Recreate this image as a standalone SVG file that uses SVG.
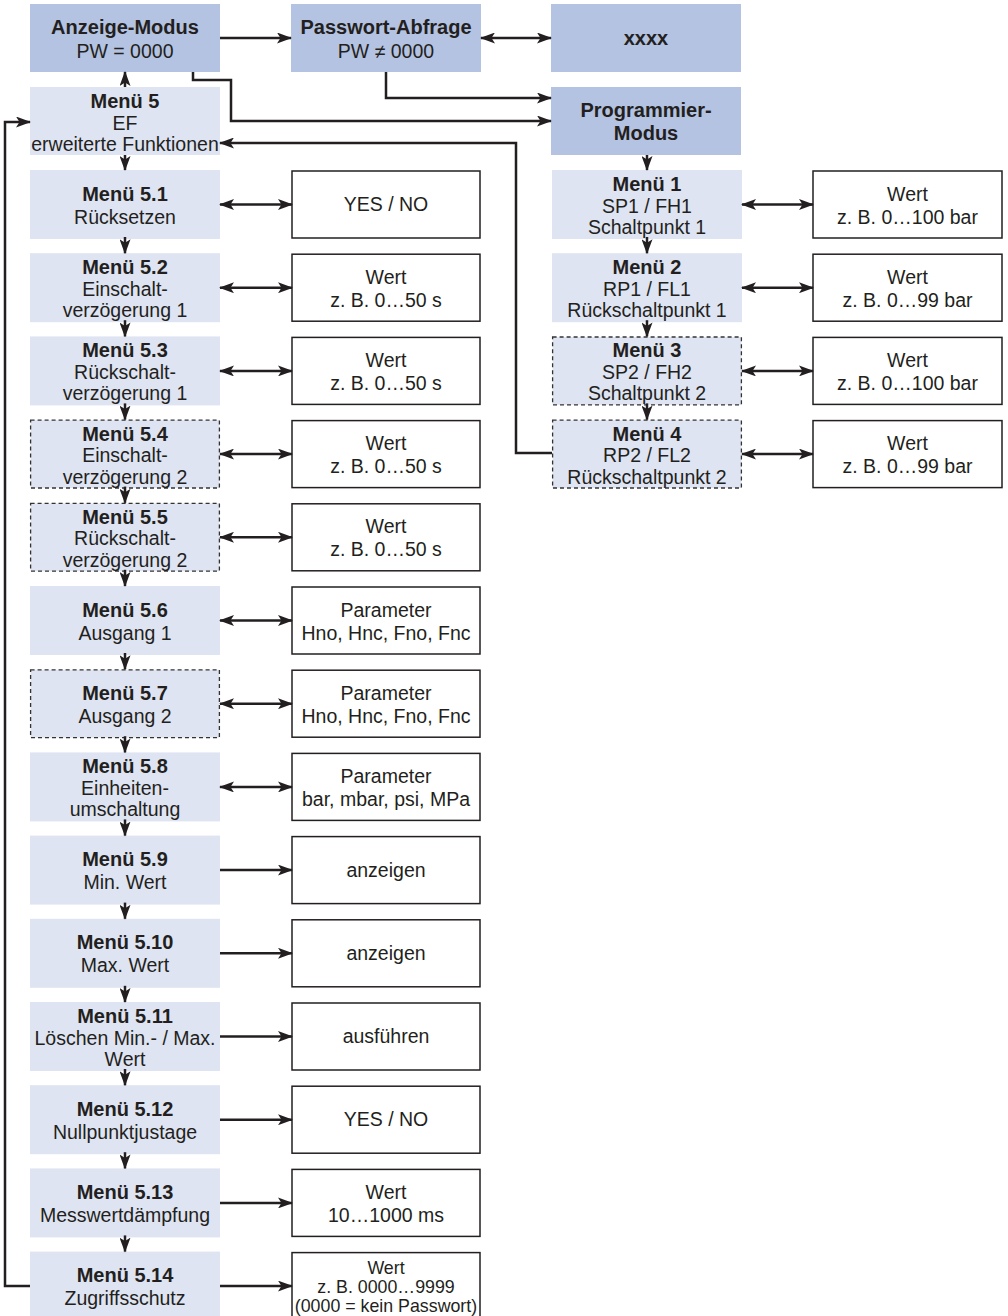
<svg xmlns="http://www.w3.org/2000/svg" width="1008" height="1316" viewBox="0 0 1008 1316">
<style>
text{font-family:"Liberation Sans",Arial,sans-serif;font-size:19.5px;fill:#231f20;text-anchor:middle}
.b{font-weight:bold;font-size:20px}
.s{font-size:17.8px}
.dk{fill:#b4c3e1}
.lt{fill:#dfe4f2}
.ds{stroke:#333;stroke-width:1.3;stroke-dasharray:4 3}
.val{fill:#fff;stroke:#231f20;stroke-width:1.5}
.c{fill:none;stroke:#231f20;stroke-width:2.5}
.e{marker-end:url(#ah)}
.be{marker-end:url(#ah);marker-start:url(#ah)}
</style>
<defs>
<marker id="ah" markerUnits="userSpaceOnUse" markerWidth="15" markerHeight="11" refX="14" refY="5.5" orient="auto-start-reverse" viewBox="0 0 15 11">
<path d="M0,0 L15,5.5 L0,11 L3.5,5.5 z" fill="#231f20"/>
</marker>
</defs>
<rect width="1008" height="1316" fill="#fff"/>

<!-- top nodes -->
<g id="anzeige" transform="translate(30,4)"><rect class="dk" width="190" height="68"/><text class="b" x="95" y="30">Anzeige-Modus</text><text x="95" y="54">PW = 0000</text></g>
<g id="passwort" transform="translate(291,4)"><rect class="dk" width="190" height="68"/><text class="b" x="95" y="30">Passwort-Abfrage</text><text x="95" y="54">PW ≠ 0000</text></g>
<g id="xxxx" transform="translate(551,4)"><rect class="dk" width="190" height="68"/><text class="b" x="95" y="41">xxxx</text></g>
<g id="programmier" transform="translate(551,87)"><rect class="dk" width="190" height="68"/><text class="b" x="95" y="30">Programmier-</text><text class="b" x="95" y="53">Modus</text></g>

<!-- left menus -->
<g id="m5" transform="translate(30,87)"><rect class="lt" width="190" height="68"/><text class="b" x="95" y="21">Menü 5</text><text x="95" y="42.5">EF</text><text x="95" y="64">erweiterte Funktionen</text></g>
<g id="m5_1" transform="translate(30,170)"><rect class="lt" width="190" height="69"/><text class="b" x="95" y="30.5">Menü 5.1</text><text x="95" y="53.5">Rücksetzen</text></g>
<g id="m5_2" transform="translate(30,253.2)"><rect class="lt" width="190" height="69"/><text class="b" x="95" y="21">Menü 5.2</text><text x="95" y="42.5">Einschalt-</text><text x="95" y="64">verzögerung 1</text></g>
<g id="m5_3" transform="translate(30,336.4)"><rect class="lt" width="190" height="69"/><text class="b" x="95" y="21">Menü 5.3</text><text x="95" y="42.5">Rückschalt-</text><text x="95" y="64">verzögerung 1</text></g>
<g id="m5_4" transform="translate(30,419.6)"><rect class="lt ds" x="0.6" y="0.6" width="188.8" height="67.8"/><text class="b" x="95" y="21">Menü 5.4</text><text x="95" y="42.5">Einschalt-</text><text x="95" y="64">verzögerung 2</text></g>
<g id="m5_5" transform="translate(30,502.8)"><rect class="lt ds" x="0.6" y="0.6" width="188.8" height="67.8"/><text class="b" x="95" y="21">Menü 5.5</text><text x="95" y="42.5">Rückschalt-</text><text x="95" y="64">verzögerung 2</text></g>
<g id="m5_6" transform="translate(30,586)"><rect class="lt" width="190" height="69"/><text class="b" x="95" y="30.5">Menü 5.6</text><text x="95" y="53.5">Ausgang 1</text></g>
<g id="m5_7" transform="translate(30,669.2)"><rect class="lt ds" x="0.6" y="0.6" width="188.8" height="67.8"/><text class="b" x="95" y="30.5">Menü 5.7</text><text x="95" y="53.5">Ausgang 2</text></g>
<g id="m5_8" transform="translate(30,752.4)"><rect class="lt" width="190" height="69"/><text class="b" x="95" y="21">Menü 5.8</text><text x="95" y="42.5">Einheiten-</text><text x="95" y="64">umschaltung</text></g>
<g id="m5_9" transform="translate(30,835.6)"><rect class="lt" width="190" height="69"/><text class="b" x="95" y="30.5">Menü 5.9</text><text x="95" y="53.5">Min. Wert</text></g>
<g id="m5_10" transform="translate(30,918.8)"><rect class="lt" width="190" height="69"/><text class="b" x="95" y="30.5">Menü 5.10</text><text x="95" y="53.5">Max. Wert</text></g>
<g id="m5_11" transform="translate(30,1002)"><rect class="lt" width="190" height="69"/><text class="b" x="95" y="21">Menü 5.11</text><text x="95" y="42.5">Löschen Min.- / Max.</text><text x="95" y="64">Wert</text></g>
<g id="m5_12" transform="translate(30,1085.2)"><rect class="lt" width="190" height="69"/><text class="b" x="95" y="30.5">Menü 5.12</text><text x="95" y="53.5">Nullpunktjustage</text></g>
<g id="m5_13" transform="translate(30,1168.4)"><rect class="lt" width="190" height="69"/><text class="b" x="95" y="30.5">Menü 5.13</text><text x="95" y="53.5">Messwertdämpfung</text></g>
<g id="m5_14" transform="translate(30,1251.6)"><rect class="lt" width="190" height="69"/><text class="b" x="95" y="30.5">Menü 5.14</text><text x="95" y="53.5">Zugriffsschutz</text></g>

<!-- left value boxes -->
<g id="v5_1" transform="translate(292,171)"><rect class="val" width="188" height="67"/><text x="94" y="40">YES / NO</text></g>
<g id="v5_2" transform="translate(292,254.2)"><rect class="val" width="188" height="67"/><text x="94" y="29.5">Wert</text><text x="94" y="52.5">z. B. 0…50 s</text></g>
<g id="v5_3" transform="translate(292,337.4)"><rect class="val" width="188" height="67"/><text x="94" y="29.5">Wert</text><text x="94" y="52.5">z. B. 0…50 s</text></g>
<g id="v5_4" transform="translate(292,420.6)"><rect class="val" width="188" height="67"/><text x="94" y="29.5">Wert</text><text x="94" y="52.5">z. B. 0…50 s</text></g>
<g id="v5_5" transform="translate(292,503.8)"><rect class="val" width="188" height="67"/><text x="94" y="29.5">Wert</text><text x="94" y="52.5">z. B. 0…50 s</text></g>
<g id="v5_6" transform="translate(292,587)"><rect class="val" width="188" height="67"/><text x="94" y="29.5">Parameter</text><text x="94" y="52.5">Hno, Hnc, Fno, Fnc</text></g>
<g id="v5_7" transform="translate(292,670.2)"><rect class="val" width="188" height="67"/><text x="94" y="29.5">Parameter</text><text x="94" y="52.5">Hno, Hnc, Fno, Fnc</text></g>
<g id="v5_8" transform="translate(292,753.4)"><rect class="val" width="188" height="67"/><text x="94" y="29.5">Parameter</text><text x="94" y="52.5">bar, mbar, psi, MPa</text></g>
<g id="v5_9" transform="translate(292,836.6)"><rect class="val" width="188" height="67"/><text x="94" y="40">anzeigen</text></g>
<g id="v5_10" transform="translate(292,919.8)"><rect class="val" width="188" height="67"/><text x="94" y="40">anzeigen</text></g>
<g id="v5_11" transform="translate(292,1003)"><rect class="val" width="188" height="67"/><text x="94" y="40">ausführen</text></g>
<g id="v5_12" transform="translate(292,1086.2)"><rect class="val" width="188" height="67"/><text x="94" y="40">YES / NO</text></g>
<g id="v5_13" transform="translate(292,1169.4)"><rect class="val" width="188" height="67"/><text x="94" y="29.5">Wert</text><text x="94" y="52.5">10…1000 ms</text></g>
<g id="v5_14" transform="translate(292,1252.6)"><rect class="val" width="188" height="67"/><text class="s" x="94" y="21">Wert</text><text class="s" x="94" y="40.5">z. B. 0000…9999</text><text class="s" x="94" y="59.5">(0000 = kein Passwort)</text></g>

<!-- right menus -->
<g id="m1" transform="translate(552,170)"><rect class="lt" width="190" height="69"/><text class="b" x="95" y="21">Menü 1</text><text x="95" y="42.5">SP1 / FH1</text><text x="95" y="64">Schaltpunkt 1</text></g>
<g id="m2" transform="translate(552,253.2)"><rect class="lt" width="190" height="69"/><text class="b" x="95" y="21">Menü 2</text><text x="95" y="42.5">RP1 / FL1</text><text x="95" y="64">Rückschaltpunkt 1</text></g>
<g id="m3" transform="translate(552,336.4)"><rect class="lt ds" x="0.6" y="0.6" width="188.8" height="67.8"/><text class="b" x="95" y="21">Menü 3</text><text x="95" y="42.5">SP2 / FH2</text><text x="95" y="64">Schaltpunkt 2</text></g>
<g id="m4" transform="translate(552,419.6)"><rect class="lt ds" x="0.6" y="0.6" width="188.8" height="67.8"/><text class="b" x="95" y="21">Menü 4</text><text x="95" y="42.5">RP2 / FL2</text><text x="95" y="64">Rückschaltpunkt 2</text></g>

<!-- right value boxes -->
<g id="v1" transform="translate(813,171)"><rect class="val" width="189" height="67"/><text x="94.5" y="29.5">Wert</text><text x="94.5" y="52.5">z. B. 0…100 bar</text></g>
<g id="v2" transform="translate(813,254.2)"><rect class="val" width="189" height="67"/><text x="94.5" y="29.5">Wert</text><text x="94.5" y="52.5">z. B. 0…99 bar</text></g>
<g id="v3" transform="translate(813,337.4)"><rect class="val" width="189" height="67"/><text x="94.5" y="29.5">Wert</text><text x="94.5" y="52.5">z. B. 0…100 bar</text></g>
<g id="v4" transform="translate(813,420.6)"><rect class="val" width="189" height="67"/><text x="94.5" y="29.5">Wert</text><text x="94.5" y="52.5">z. B. 0…99 bar</text></g>

<!-- connectors -->
<g id="connectors">
<path class="c e" d="M220,38 H291"/>
<path class="c be" d="M481,38 H551"/>
<path class="c e" d="M193,72 V80 H231 V121 H551"/>
<path class="c e" d="M386,72 V98 H551"/>
<path class="c e" d="M125,87 V72"/>
<path class="c e" d="M30,1286 H5 V122 H30"/>
<path class="c e" d="M552,453 H516 V143 H220"/>
<path class="c e" d="M647,155 V170"/>
<path class="c e" d="M647,237 V253.2"/>
<path class="c e" d="M647,320.2 V336.4"/>
<path class="c e" d="M647,403.4 V419.6"/>
<path class="c be" d="M742,204.5 H813"/>
<path class="c be" d="M742,287.7 H813"/>
<path class="c be" d="M742,370.9 H813"/>
<path class="c be" d="M742,454.1 H813"/>
<path class="c e" d="M125,155 V170"/>
<path class="c e" d="M125,237 V253.2"/>
<path class="c e" d="M125,320.2 V336.4"/>
<path class="c e" d="M125,403.4 V419.6"/>
<path class="c e" d="M125,486.6 V502.8"/>
<path class="c e" d="M125,569.8 V586"/>
<path class="c e" d="M125,653 V669.2"/>
<path class="c e" d="M125,736.2 V752.4"/>
<path class="c e" d="M125,819.4 V835.6"/>
<path class="c e" d="M125,902.6 V918.8"/>
<path class="c e" d="M125,985.8 V1002"/>
<path class="c e" d="M125,1069 V1085.2"/>
<path class="c e" d="M125,1152.2 V1168.4"/>
<path class="c e" d="M125,1235.4 V1251.6"/>
<path class="c be" d="M220,204.5 H292"/>
<path class="c be" d="M220,287.7 H292"/>
<path class="c be" d="M220,370.9 H292"/>
<path class="c be" d="M220,454.1 H292"/>
<path class="c be" d="M220,537.3 H292"/>
<path class="c be" d="M220,620.5 H292"/>
<path class="c be" d="M220,703.7 H292"/>
<path class="c be" d="M220,786.9 H292"/>
<path class="c e" d="M220,870.1 H292"/>
<path class="c e" d="M220,953.3 H292"/>
<path class="c e" d="M220,1036.5 H292"/>
<path class="c e" d="M220,1119.7 H292"/>
<path class="c e" d="M220,1202.9 H292"/>
<path class="c e" d="M220,1286.1 H292"/>
</g>
</svg>
